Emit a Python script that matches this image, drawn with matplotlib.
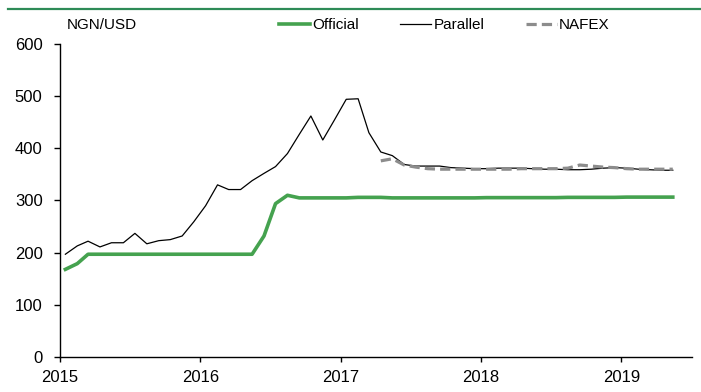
import matplotlib
matplotlib.use("Agg")
import matplotlib.pyplot as plt
from matplotlib.lines import Line2D
import pandas as pd

plt.rcParams['font.family'] = ['Liberation Sans', 'DejaVu Sans']

# ---- data (monthly, Jan 2015 - May 2019) ----
months = pd.date_range('2015-01-01', '2019-05-01', freq='MS') + pd.Timedelta(days=14)

official = [168, 179, 197, 197, 197, 197, 197, 197, 197, 197,
            197, 197, 197, 197, 197, 197, 197, 232, 294, 310,
            305, 305, 305, 305, 305, 306, 306, 306, 305, 305,
            305, 305, 305, 305, 305, 305, 305.5, 305.5, 305.5, 305.5,
            305.5, 305.5, 305.5, 306, 306, 306, 306, 306, 306.5, 306.5,
            306.5, 306.5, 306.5]

parallel = [197, 213, 222, 211, 219, 219, 237, 217, 223, 225,
            232, 259, 290, 330, 321, 321, 338, 352, 365, 390,
            427, 462, 416, 454, 494, 495, 430, 393, 386, 369,
            366, 366, 366, 363, 362, 361, 361, 362, 362, 362,
            361, 360, 360, 359, 359, 360, 362, 363, 362, 360,
            359, 358, 358]

nafex_start = 27
nafex = [376, 380, 368, 364, 361, 360, 360, 360, 360, 360,
         360, 360, 361, 361, 361, 361, 362, 368, 366, 364,
         363, 361, 360, 360, 360, 360]

year_ticks = ['2015', '2016', '2017', '2018', '2019']
y_ticks = [0, 100, 200, 300, 400, 500, 600]

# ---- figure ----
W, H = 701, 392
fig = plt.figure(figsize=(W / 100, H / 100), dpi=100)
ax = fig.add_axes([60 / W, 1 - 357 / H, (692 - 60) / W, (357 - 44) / H])

green = '#45a24f'
ln_off, = ax.plot(months, official, color=green, lw=2.6, solid_joinstyle='round', zorder=3)
ln_par, = ax.plot(months, parallel, color='black', lw=0.9, zorder=4)
ln_naf, = ax.plot(months[nafex_start:], nafex, color='#8c8c8c', lw=2.3,
                  dashes=(3.2, 1.6), zorder=5)

ax.set_ylim(0, 600)
ax.set_yticks(y_ticks)
ax.set_xlim(pd.Timestamp('2015-01-01'), pd.Timestamp('2019-07-04'))
ax.set_xticks([pd.Timestamp(y + '-01-01') for y in year_ticks])
ax.set_xticklabels(year_ticks)

for s in ['top', 'right']:
    ax.spines[s].set_visible(False)
for s in ['left', 'bottom']:
    ax.spines[s].set_linewidth(1.0)
ax.tick_params(axis='y', direction='out', length=4.5, width=1.0, pad=8, labelsize=12)
ax.tick_params(axis='x', direction='out', length=3.6, width=1.0, pad=6, labelsize=12)

fig.text(67 / W, 1 - 25 / H, 'NGN/USD', fontsize=11, va='center', ha='left')

leg = fig.legend([ln_off, ln_par, ln_naf], ['Official', 'Parallel', 'NAFEX'],
                 loc='center left', bbox_to_anchor=(279 / W, 1 - 25 / H),
                 bbox_transform=fig.transFigure, ncol=3, frameon=False,
                 fontsize=11, handlelength=2.0, handletextpad=0.15,
                 columnspacing=2.75, borderpad=0, borderaxespad=0)

fig.add_artist(Line2D([8 / W, 1.0], [1 - 9 / H, 1 - 9 / H], transform=fig.transFigure,
                      color='#2e8b57', lw=1.6))

fig.savefig('out.png', dpi=100)
